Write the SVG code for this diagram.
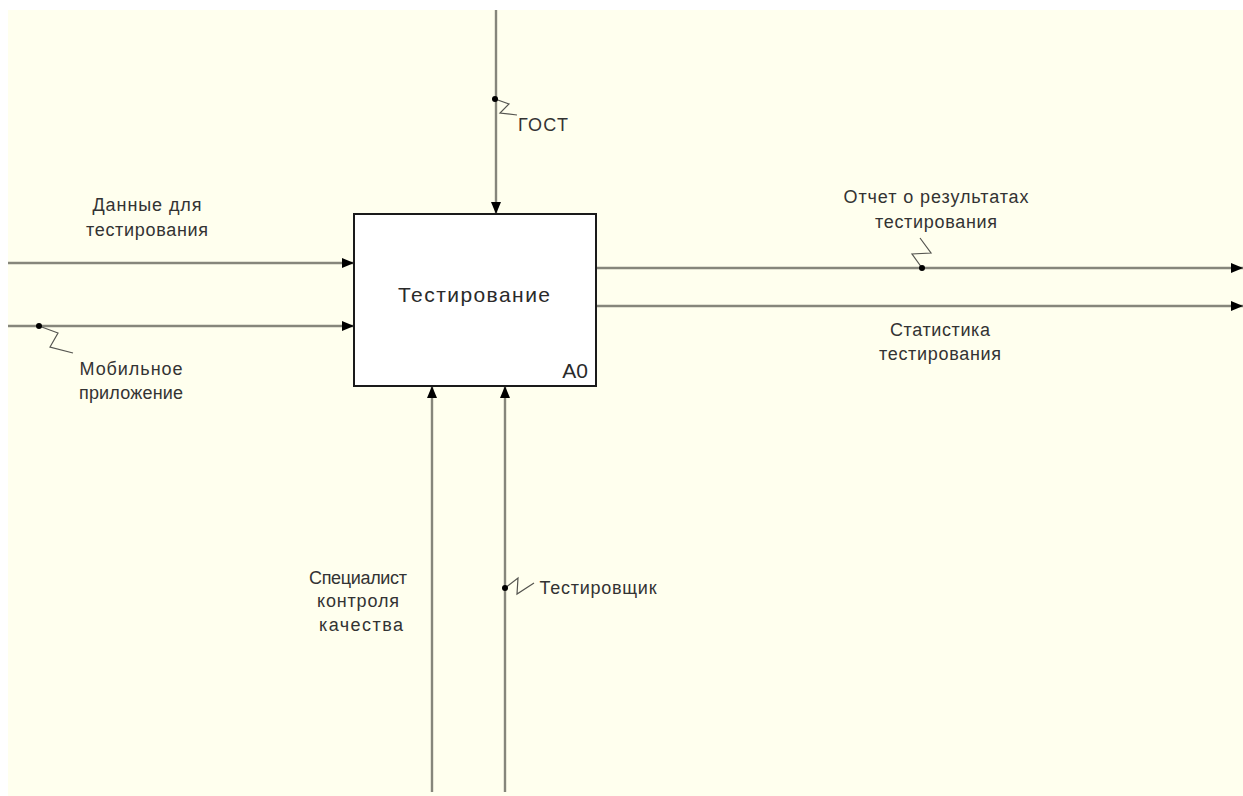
<svg xmlns="http://www.w3.org/2000/svg" width="1243" height="796" viewBox="0 0 1243 796">
  <style>
    .bg { fill: #ffffee; }
    .arrow { fill: none; stroke: #86867b; stroke-width: 2.4; }
    .squig { fill: none; stroke: #555550; stroke-width: 1.2; }
    .dot { fill: #000; }
    .box { fill: #ffffff; stroke: #1a1a1a; stroke-width: 2; }
    .lbl { font-family: "Liberation Sans", Arial, sans-serif; font-size: 18px; fill: #333333; text-anchor: middle; }
    .title { font-family: "Liberation Sans", Arial, sans-serif; font-size: 21px; fill: #2a2a2a; text-anchor: middle; }
    .num { font-family: "Liberation Sans", Arial, sans-serif; font-size: 21px; fill: #2a2a2a; text-anchor: end; }
  </style>
  <defs>
    <marker id="head" viewBox="0 0 12 10" refX="12" refY="5" markerWidth="12" markerHeight="10" markerUnits="userSpaceOnUse" orient="auto">
      <path d="M0,0 L12,5 L0,10 Z" fill="#000"/>
    </marker>
  </defs>

  <rect width="1243" height="796" fill="#ffffff"/>
  <rect class="bg" x="8" y="10" width="1235" height="786"/>

  <!-- connectors -->
  <g id="connectors">
    <!-- control -->
    <line class="arrow" x1="496" y1="10" x2="496" y2="214" marker-end="url(#head)"/>
    <!-- inputs -->
    <line class="arrow" x1="8" y1="263" x2="354" y2="263" marker-end="url(#head)"/>
    <line class="arrow" x1="8" y1="326" x2="354" y2="326" marker-end="url(#head)"/>
    <!-- outputs -->
    <line class="arrow" x1="596" y1="268" x2="1243" y2="268" marker-end="url(#head)"/>
    <line class="arrow" x1="596" y1="306" x2="1243" y2="306" marker-end="url(#head)"/>
    <!-- mechanisms -->
    <line class="arrow" x1="432" y1="792" x2="432" y2="386" marker-end="url(#head)"/>
    <line class="arrow" x1="505" y1="792" x2="505" y2="386" marker-end="url(#head)"/>

    <!-- label squiggles -->
    <polyline class="squig" points="495,99 509,104 500,113 517,115"/>
    <circle class="dot" cx="495" cy="99" r="3"/>
    <polyline class="squig" points="39,326 58,333 50,347 73,353"/>
    <circle class="dot" cx="39" cy="326" r="3"/>
    <polyline class="squig" points="922,268 912,254 931,253 920,238"/>
    <circle class="dot" cx="922" cy="268" r="3"/>
    <polyline class="squig" points="505,588 518,578 517,594 534,583"/>
    <circle class="dot" cx="505" cy="588" r="3"/>

    <!-- arrow labels -->
    <text class="lbl" x="543" y="131" textLength="50">ГОСТ</text>
    <text class="lbl" x="147" y="211" textLength="109">Данные для</text>
    <text class="lbl" x="147" y="236" textLength="122">тестирования</text>
    <text class="lbl" x="131" y="375" textLength="103">Мобильное</text>
    <text class="lbl" x="131" y="399" textLength="104">приложение</text>
    <text class="lbl" x="936" y="203" textLength="185">Отчет о результатах</text>
    <text class="lbl" x="936" y="228" textLength="122">тестирования</text>
    <text class="lbl" x="940" y="336" textLength="100">Статистика</text>
    <text class="lbl" x="940" y="360" textLength="122">тестирования</text>
    <text class="lbl" x="358" y="584" textLength="98">Специалист</text>
    <text class="lbl" x="358" y="607" textLength="82">контроля</text>
    <text class="lbl" x="361" y="631" textLength="84">качества</text>
    <text class="lbl" x="598" y="594" textLength="117">Тестировщик</text>
  </g>

  <!-- activity box -->
  <g id="node-A0">
    <rect class="box" x="354" y="214" width="242" height="172"/>
    <text class="title" x="474" y="302" textLength="152">Тестирование</text>
    <text class="num" x="588" y="378">A0</text>
  </g>
</svg>
